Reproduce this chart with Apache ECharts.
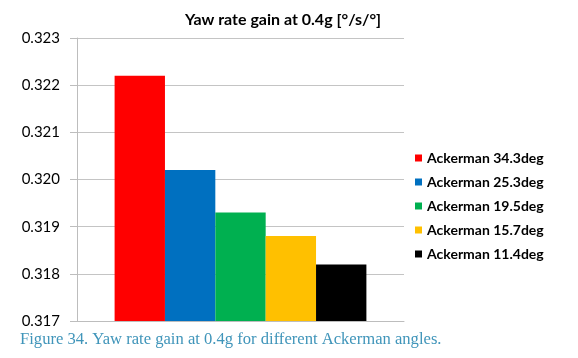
<!DOCTYPE html>
<html><head><meta charset="utf-8">
<script src="https://cdn.jsdelivr.net/npm/echarts@6/dist/echarts.min.js"></script>
<style>html,body{margin:0;padding:0;background:#fff}#c{width:578px;height:358px}</style>
</head><body><div id="c"></div>
<script>
const seriesNames = ['Ackerman 34.3deg','Ackerman 25.3deg','Ackerman 19.5deg','Ackerman 15.7deg','Ackerman 11.4deg'];
const seriesValues = [0.3222, 0.3202, 0.3193, 0.3188, 0.3182];
const colors = ['#ff0000','#0070c0','#00b050','#ffc000','#000000'];
const titleText = 'Yaw rate gain at 0.4g [°/s/°]';
const captionText = 'Figure 34. Yaw rate gain at 0.4g for different Ackerman angles.';

const chart = echarts.init(document.getElementById('c'));
chart.setOption({
  animation: false,
  title: { text: titleText, left: 278, top: 7, textAlign: 'center',
    textStyle: { fontFamily: 'Lato', fontWeight: 'bold', fontSize: 16, color: '#000' } },
  legend: {
    orient: 'vertical', left: 410, top: 146, itemWidth: 7, itemHeight: 7, itemGap: 10,
    icon: 'rect', textStyle: { fontFamily: 'Lato', fontWeight: 'bold', fontSize: 14, color: '#000' },
    data: seriesNames
  },
  grid: { left: 77, right: 174, top: 38, bottom: 37, containLabel: false },
  xAxis: { type: 'category', data: [''],
    axisLine: { lineStyle: { color: '#bdbdbd' } }, axisTick: { show: false }, axisLabel: { show: false } },
  yAxis: { type: 'value', min: 0.317, max: 0.323, interval: 0.001,
    axisLine: { show: true, lineStyle: { color: '#bdbdbd' } },
    axisTick: { show: true, length: 7, lineStyle: { color: '#bdbdbd' } },
    splitLine: { lineStyle: { color: '#c4c4c4' } },
    axisLabel: { fontFamily: 'Lato', fontSize: 15, color: '#000', margin: 17, formatter: v => v.toFixed(3) } },
  series: seriesNames.map((n, i) => ({
    name: n, type: 'bar', data: [seriesValues[i]], barGap: 0, barCategoryGap: '23%',
    itemStyle: { color: colors[i] }
  })),
  graphic: [{ type: 'text', left: 20, top: 331,
    style: { text: captionText, font: '16.6px "Liberation Serif"', fill: '#4095ba' } }]
});
</script></body></html>
